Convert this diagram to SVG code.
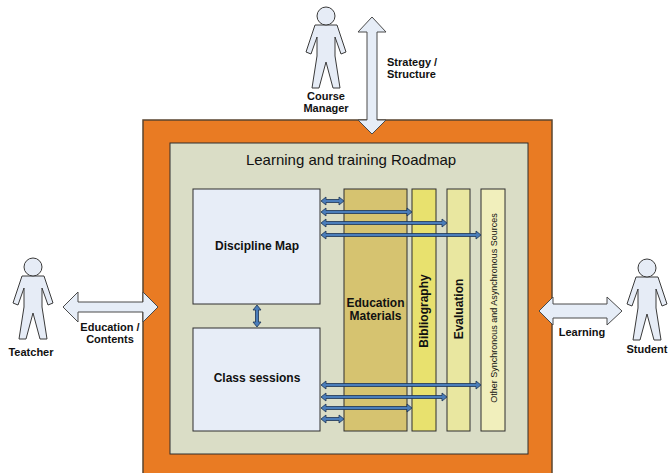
<svg xmlns="http://www.w3.org/2000/svg" width="668" height="473" viewBox="0 0 668 473">
<style>
.lbl{font-family:"Liberation Sans",Arial,sans-serif;font-weight:bold;font-size:11px;fill:#111;text-anchor:middle}
.box{font-family:"Liberation Sans",Arial,sans-serif;font-weight:bold;font-size:12px;fill:#111;text-anchor:middle}
.fig{fill:#E6ECF6;stroke:#3a3a3a;stroke-width:1}
.big{fill:#E6EDF7;stroke:#4a4a4a;stroke-width:1}
.sm{fill:#4A7DBA;stroke:#1C3454;stroke-width:0.8}
.col{stroke:#2e2e2e;stroke-width:1}
</style>
<defs>
<g id="person">
<polygon class="fig" points="-11,9 -20,36 -15,38 -9,21 -9,40 -14,72 -7,72 0,46 7,72 14,72 9,40 9,21 15,38 20,36 11,9"/>
<circle class="fig" cx="0" cy="0" r="9"/>
</g>
</defs>
<rect width="668" height="473" fill="#ffffff"/>

<g id="frame">
<rect x="143" y="120" width="409" height="365" fill="#E97B23" stroke="#5A4630" stroke-width="1.5"/>
</g>
<g id="roadmap">
<rect x="170" y="143" width="358" height="311" fill="#DADDC6" stroke="#2e2e2e" stroke-width="1"/>
<text x="351" y="165" style="font-family:'Liberation Sans',Arial,sans-serif;font-size:15px;fill:#111;text-anchor:middle">Learning and training Roadmap</text>
</g>

<g id="discipline-map">
<rect x="193" y="189" width="127" height="115" fill="#E7EDF7" stroke="#2e2e2e" stroke-width="1"/>
<text class="box" x="257" y="250">Discipline Map</text>
</g>
<g id="class-sessions">
<rect x="193" y="328" width="127" height="103" fill="#E7EDF7" stroke="#2e2e2e" stroke-width="1"/>
<text class="box" x="257" y="382">Class sessions</text>
</g>
<g id="education-materials">
<rect class="col" x="344" y="189" width="63" height="242" fill="#D6C370"/>
<text class="box" x="375.5" y="307">Education</text>
<text class="box" x="375.5" y="320">Materials</text>
</g>
<g id="bibliography">
<rect class="col" x="412" y="189" width="24" height="242" fill="#E8E16E"/>
<text class="box" transform="translate(428,311) rotate(-90)">Bibliography</text>
</g>
<g id="evaluation">
<rect class="col" x="447" y="189" width="23" height="242" fill="#E9E7A0"/>
<text class="box" transform="translate(462.5,309) rotate(-90)">Evaluation</text>
</g>
<g id="other-sources">
<rect class="col" x="481" y="189" width="24" height="242" fill="#F1EFBC"/>
<text transform="translate(496.5,308) rotate(-90)" style="font-family:'Liberation Sans',Arial,sans-serif;font-size:9px;fill:#111;text-anchor:middle">Other Synchronous and Asynchronous Sources</text>
</g>

<g id="course-manager">
<use href="#person" x="326" y="16"/>
<text class="lbl" x="326" y="100">Course</text>
<text class="lbl" x="326" y="112">Manager</text>
</g>
<g id="teacher">
<use href="#person" x="33" y="267"/>
<text class="lbl" x="31" y="356">Teatcher</text>
</g>
<g id="student">
<use href="#person" x="647" y="268"/>
<text class="lbl" x="647" y="353">Student</text>
</g>

<g id="connectors">
<polygon class="big" points="372,17 386,32 377,32 377,120 386,120 372,134 358,120 367,120 367,32 358,32"/>
<polygon class="big" points="63,307 78,292 78,302 143,302 143,292 158,307 143,322 143,312 78,312 78,322"/>
<polygon class="big" points="539,311 553,297 553,304 607,304 607,297 622,311 607,325 607,318 553,318 553,325"/>
<text class="lbl" x="387" y="66" style="text-anchor:start">Strategy /</text>
<text class="lbl" x="387" y="78" style="text-anchor:start">Structure</text>
<text class="lbl" x="110" y="331">Education /</text>
<text class="lbl" x="110" y="343">Contents</text>
<text class="lbl" x="582" y="336">Learning</text>

<polygon class="sm" points="321,201 326,197 326,199.5 339,199.5 339,197 344,201 339,205 339,202.5 326,202.5 326,205"/>
<polygon class="sm" points="321,212 326,208 326,210.5 407,210.5 407,208 412,212 407,216 407,213.5 326,213.5 326,216"/>
<polygon class="sm" points="321,223 326,219 326,221.5 442,221.5 442,219 447,223 442,227 442,224.5 326,224.5 326,227"/>
<polygon class="sm" points="321,235 326,231 326,233.5 476,233.5 476,231 481,235 476,239 476,236.5 326,236.5 326,239"/>

<polygon class="sm" points="321,385 326,381 326,383.5 476,383.5 476,381 481,385 476,389 476,386.5 326,386.5 326,389"/>
<polygon class="sm" points="321,397 326,393 326,395.5 442,395.5 442,393 447,397 442,401 442,398.5 326,398.5 326,401"/>
<polygon class="sm" points="321,408 326,404 326,406.5 407,406.5 407,404 412,408 407,412 407,409.5 326,409.5 326,412"/>
<polygon class="sm" points="321,419 326,415 326,417.5 339,417.5 339,415 344,419 339,423 339,420.5 326,420.5 326,423"/>

<polygon class="sm" points="257,305 261,310 258.5,310 258.5,322 261,322 257,327 253,322 255.5,322 255.5,310 253,310"/>
</g>
</svg>
